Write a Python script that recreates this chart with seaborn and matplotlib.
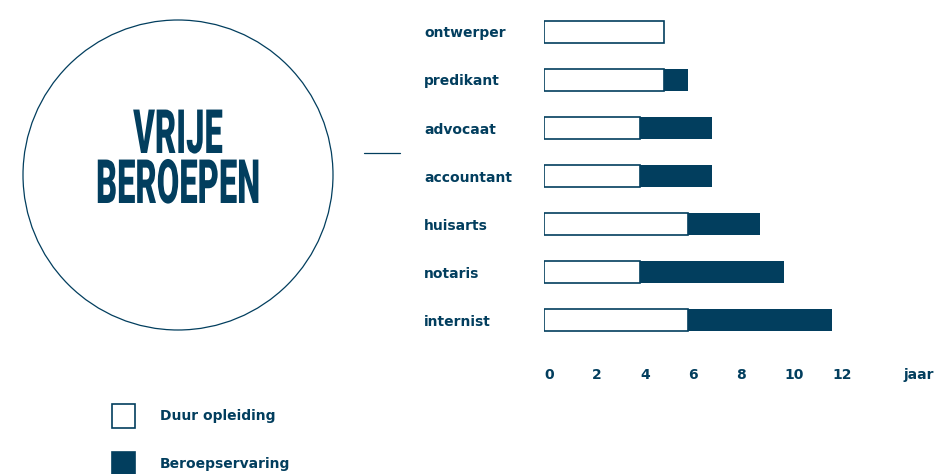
import matplotlib
matplotlib.use("Agg")
import matplotlib.pyplot as plt
import matplotlib.patches as mpatches
from matplotlib.patheffects import AbstractPathEffect
from matplotlib.transforms import Affine2D
from matplotlib.font_manager import FontProperties
import seaborn as sns
import pandas as pd

# ---- data ----
beroepen = ["ontwerper", "predikant", "advocaat", "accountant", "huisarts", "notaris", "internist"]
duur_opleiding = [5, 5, 4, 4, 6, 4, 6]
totaal_jaren = [5, 6, 7, 7, 9, 10, 12]
x_ticks = [0, 2, 4, 6, 8, 10, 12, 15]
x_ticklabels = ["0", "2", "4", "6", "8", "10", "12", "jaar"]
legend_labels = ["Duur opleiding", "Beroepservaring"]
title_text = "VRIJE\nBEROEPEN"

DARK = "#023e5e"
W, H = 953, 474
DPI = 100
LFS = 10  # label font size (pt)

sns.set_theme(style="white")
plt.rcParams["font.family"] = ["DejaVu Sans"]

df = pd.DataFrame({"beroep": beroepen, "opleiding": duur_opleiding, "totaal": totaal_jaren})

fig = plt.figure(figsize=(W / DPI, H / DPI), dpi=DPI)
fig.patch.set_facecolor("white")

# overlay axes in pixel units (for circle, connector, title)
ov = fig.add_axes([0, 0, 1, 1])
ov.set_xlim(0, W)
ov.set_ylim(H, 0)
ov.axis("off")

# bar axes: x 0 at px 544, 24 px per unit; rows 48 px apart
x0_px, px_per = 544, 24
xmax = 16.5
top_px, bot_px = 8, 344
ax = fig.add_axes([x0_px / W, 1 - bot_px / H, xmax * px_per / W, (bot_px - top_px) / H])

sns.barplot(data=df, y="beroep", x="totaal", orient="h", color=DARK, saturation=1,
            width=0.46, ax=ax, label=legend_labels[1], linewidth=0)
sns.barplot(data=df, y="beroep", x="opleiding", orient="h", color="white", saturation=1,
            width=0.46, ax=ax, label=legend_labels[0], edgecolor=DARK, linewidth=1.2)
if ax.get_legend() is not None:
    ax.get_legend().remove()

ax.set_xlim(0, xmax)
ax.set_ylim(6.5, -0.5)
for s in ax.spines.values():
    s.set_visible(False)
ax.set_xlabel("")
ax.set_ylabel("")
ax.set_facecolor("none")
ax.set_xticks(x_ticks)
ax.set_xticklabels(x_ticklabels, ha="left", fontsize=LFS, fontweight="bold", color=DARK)
ax.tick_params(axis="x", length=0, pad=17)
ax.set_yticks(range(len(beroepen)))
ax.set_yticklabels(beroepen, ha="left", fontsize=LFS, fontweight="bold", color=DARK)
ax.tick_params(axis="y", length=0, pad=(x0_px - 424) * 72 / DPI)

# legend
h, l = ax.get_legend_handles_labels()
order = [l.index(legend_labels[0]), l.index(legend_labels[1])]
fs = LFS * DPI / 72
hh = (24 / fs - 0.245) / 0.65
leg = fig.legend([h[i] for i in order], [l[i] for i in order],
                 loc="upper left", bbox_to_anchor=(112 / W, 1 - 404 / H),
                 frameon=False, borderpad=0, borderaxespad=0,
                 handlelength=23 / fs, handleheight=hh,
                 handletextpad=25 / fs, labelspacing=24 / fs,
                 prop={"size": LFS, "weight": "bold"})
for t in leg.get_texts():
    t.set_color(DARK)
for p in leg.get_patches():
    p.set_edgecolor(DARK)
    p.set_linewidth(1.2)

# circle and connector
ov.add_patch(mpatches.Circle((178, 175), 155, fill=False, edgecolor=DARK, linewidth=0.9))
ov.plot([364, 400], [153, 153], color=DARK, linewidth=0.9)


# condensed title via horizontal squeeze path effect
class Squeeze(AbstractPathEffect):
    def __init__(self, sx, cx):
        super().__init__()
        self.sx, self.cx = sx, cx

    def draw_path(self, renderer, gc, tpath, affine, rgbFace=None):
        a = affine + Affine2D().translate(-self.cx, 0).scale(self.sx, 1).translate(self.cx, 0)
        renderer.draw_path(gc, tpath, a, rgbFace)


renderer = fig.canvas.get_renderer()
cx = 178
TFS = 44
tprop = FontProperties(family=["Roboto", "DejaVu Sans"], weight="black", size=TFS)
lw_, lh_, ld_ = renderer.get_text_width_height_descent("lp", tprop, ismath=False)
ls = (50 - ld_) / (lh_ - ld_)
t = ov.text(cx, 203, title_text, ha="center", va="baseline", multialignment="center",
            color=DARK, fontproperties=tprop, linespacing=ls)
bb = t.get_window_extent(renderer)
t.set_path_effects([Squeeze(164 / bb.width, cx)])

fig.savefig("out.png", dpi=DPI, facecolor="white")
